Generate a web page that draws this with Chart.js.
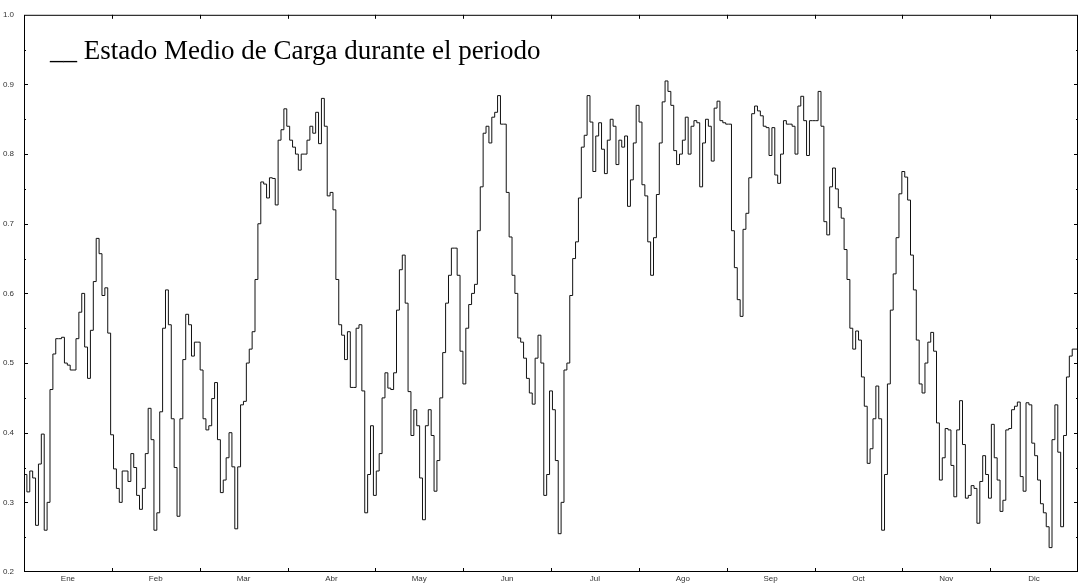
<!DOCTYPE html>
<html>
<head>
<meta charset="utf-8">
<script src="https://cdn.jsdelivr.net/npm/chart.js@4"></script>
<style>
    html, body { margin: 0; padding: 0; background: #fff; }
    #wrap { width: 1080px; height: 587px; position: relative; }
</style>
</head>
<body>
<div id="wrap"><canvas id="chart"></canvas></div>
<script>
// ========== DATA (daily mean state of charge, one array per month band) ==========
const monthNames = ['Ene', 'Feb', 'Mar', 'Abr', 'May', 'Jun', 'Jul', 'Ago', 'Sep', 'Oct', 'Nov', 'Dic'];

const ene = [0.49, 0.34, 0.315, 0.345, 0.335, 0.267, 0.355, 0.398, 0.26, 0.30, 0.462, 0.513, 0.535, 0.535, 0.537, 0.50,
    0.497, 0.49, 0.49, 0.535, 0.573, 0.60, 0.523, 0.478, 0.547, 0.617, 0.679, 0.657, 0.597, 0.608, 0.543, 0.397];
const feb = [0.348, 0.32, 0.30, 0.345, 0.345, 0.33, 0.37, 0.35, 0.31, 0.29, 0.32, 0.37, 0.435, 0.39, 0.26, 0.285,
    0.43, 0.55, 0.605, 0.555, 0.42, 0.35, 0.28, 0.42, 0.505, 0.57, 0.555, 0.51, 0.53];
const mar = [0.53, 0.49, 0.42, 0.404, 0.41, 0.449, 0.472, 0.39, 0.314, 0.332, 0.364, 0.40, 0.351, 0.262, 0.351, 0.44,
    0.445, 0.50, 0.52, 0.545, 0.62, 0.70, 0.76, 0.757, 0.737, 0.766, 0.765, 0.727, 0.82, 0.835, 0.865];
const abr = [0.84, 0.82, 0.81, 0.80, 0.777, 0.80, 0.80, 0.82, 0.84, 0.83, 0.86, 0.815, 0.88, 0.84, 0.74, 0.745,
    0.72, 0.62, 0.555, 0.54, 0.505, 0.545, 0.465, 0.465, 0.55, 0.555, 0.46, 0.285, 0.34, 0.41];
const may = [0.31, 0.345, 0.37, 0.45, 0.486, 0.464, 0.462, 0.486, 0.576, 0.634, 0.655, 0.586, 0.459, 0.396, 0.433,
    0.41, 0.335, 0.275, 0.41, 0.433, 0.396, 0.316, 0.36, 0.45, 0.515, 0.586, 0.626, 0.665, 0.665, 0.626, 0.517];
const jun = [0.47, 0.55, 0.584, 0.60, 0.613, 0.69, 0.753, 0.83, 0.84, 0.816, 0.853, 0.86, 0.884, 0.843, 0.843, 0.745,
    0.681, 0.626, 0.60, 0.536, 0.53, 0.507, 0.478, 0.457, 0.441, 0.507, 0.54, 0.50, 0.31, 0.34, 0.46];
const jul = [0.433, 0.36, 0.255, 0.30, 0.49, 0.50, 0.597, 0.65, 0.674, 0.737, 0.81, 0.827, 0.884, 0.846, 0.775,
    0.826, 0.845, 0.807, 0.772, 0.82, 0.85, 0.84, 0.785, 0.82, 0.81, 0.826, 0.725, 0.763, 0.816, 0.87];
const ago = [0.846, 0.756, 0.74, 0.674, 0.626, 0.68, 0.742, 0.816, 0.875, 0.905, 0.89, 0.87, 0.805, 0.785, 0.80, 0.82,
    0.853, 0.80, 0.84, 0.848, 0.845, 0.753, 0.816, 0.85, 0.84, 0.79, 0.866, 0.876, 0.848, 0.845, 0.843];
const sep = [0.843, 0.69, 0.637, 0.591, 0.567, 0.692, 0.715, 0.766, 0.858, 0.869, 0.862, 0.855, 0.84, 0.838, 0.798,
    0.838, 0.77, 0.758, 0.80, 0.848, 0.843, 0.843, 0.84, 0.80, 0.869, 0.883, 0.848, 0.798, 0.848, 0.848, 0.848];
const oct = [0.89, 0.84, 0.703, 0.684, 0.753, 0.78, 0.75, 0.723, 0.708, 0.663, 0.62, 0.55, 0.52, 0.546, 0.533, 0.48,
    0.438, 0.356, 0.377, 0.42, 0.467, 0.42, 0.26, 0.34, 0.47, 0.576, 0.628, 0.68, 0.743, 0.775, 0.767];
const nov = [0.734, 0.655, 0.605, 0.533, 0.47, 0.457, 0.50, 0.53, 0.544, 0.517, 0.414, 0.332, 0.364, 0.406, 0.404,
    0.353, 0.308, 0.404, 0.446, 0.383, 0.306, 0.31, 0.324, 0.32, 0.27, 0.33, 0.367, 0.34];
const dic = [0.306, 0.412, 0.364, 0.332, 0.287, 0.303, 0.404, 0.406, 0.433, 0.438, 0.444, 0.337, 0.316, 0.443, 0.44,
    0.385, 0.367, 0.332, 0.298, 0.285, 0.265, 0.235, 0.39, 0.44, 0.372, 0.265, 0.396, 0.48, 0.51, 0.52];

const estadoCarga = [].concat(ene, feb, mar, abr, may, jun, jul, ago, sep, oct, nov, dic);
const titleText = '__ Estado Medio de Carga durante el periodo';
const yMin = 0.2;
const yMax = 1.0;

// ========== HELPERS ==========
const nDays = estadoCarga.length;
const monthLen = nDays / 12;

// stepped 'after': each day holds its value until the next one, last day closes at nDays
const points = estadoCarga.map((v, i) => ({ x: i, y: v }));
points.push({ x: nDays, y: estadoCarga[nDays - 1] });

// frame with inward tick marks (month edges on x, 0.05 steps on y) + caption
const framePlugin = {
    id: 'frame',
    afterDraw(chart) {
        const { ctx, chartArea: a, scales: { x, y } } = chart;
        ctx.save();
        ctx.strokeStyle = '#000';
        ctx.lineWidth = 1;
        ctx.strokeRect(a.left + 0.5, a.top + 0.5, a.width - 1, a.height - 1);

        ctx.beginPath();
        for (let m = 1; m < 12; m++) {
            const px = Math.round(x.getPixelForValue(m * monthLen)) + 0.5;
            ctx.moveTo(px, a.bottom);
            ctx.lineTo(px, a.bottom - 4);
            ctx.moveTo(px, a.top);
            ctx.lineTo(px, a.top + 4);
        }
        for (let k = 1; k < 16; k++) {
            const v = yMin + k * 0.05;
            const py = Math.round(y.getPixelForValue(v)) + 0.5;
            const len = k % 2 === 0 ? 4 : 2;
            ctx.moveTo(a.left, py);
            ctx.lineTo(a.left + len, py);
            ctx.moveTo(a.right, py);
            ctx.lineTo(a.right - len, py);
        }
        ctx.stroke();

        ctx.fillStyle = '#000';
        ctx.font = '27px "Liberation Serif", "Times New Roman", serif';
        ctx.textBaseline = 'alphabetic';
        ctx.fillText(titleText, a.left + 26, a.top + 44);
        ctx.restore();
    },
};

// ========== CHART ==========
new Chart(document.getElementById('chart'), {
    type: 'line',
    data: {
        datasets: [{
            label: 'Estado Medio de Carga',
            data: points,
            stepped: 'after',
            borderColor: '#111',
            borderWidth: 1,
            pointRadius: 0,
            fill: false,
        }],
    },
    options: {
        responsive: true,
        maintainAspectRatio: false,
        animation: false,
        layout: { padding: { top: 14, right: 2, left: 0, bottom: 0 } },
        plugins: {
            legend: { display: false },
            tooltip: { enabled: false },
        },
        scales: {
            x: {
                type: 'linear',
                min: 0,
                max: nDays,
                afterBuildTicks: (scale) => {
                    scale.ticks = monthNames.map((_, i) => ({ value: (i + 0.5) * monthLen }));
                },
                afterFit: (scale) => { scale.height = 15; },
                ticks: {
                    autoSkip: false,
                    maxRotation: 0,
                    padding: 2,
                    color: '#333',
                    font: { family: 'Liberation Sans', size: 8 },
                    callback: (value, index) => monthNames[index],
                },
                grid: { display: false, drawTicks: false },
                border: { display: false },
            },
            y: {
                min: yMin,
                max: yMax,
                afterFit: (scale) => { scale.width = 24; },
                ticks: {
                    stepSize: 0.1,
                    padding: 10,
                    color: '#333',
                    font: { family: 'Liberation Sans', size: 8 },
                    callback: (value) => value.toFixed(1),
                },
                grid: { display: false, drawTicks: false },
                border: { display: false },
            },
        },
    },
    plugins: [framePlugin],
});
</script>
</body>
</html>
